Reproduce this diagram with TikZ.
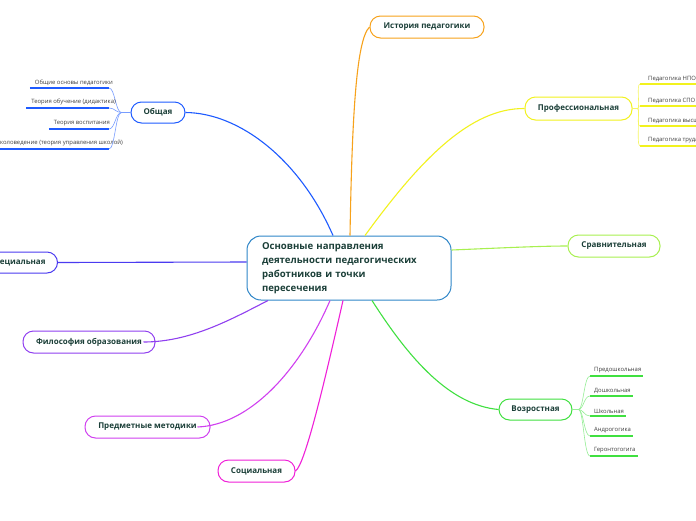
\documentclass[tikz,border=0pt]{standalone}
\usepackage{fontspec}
\setmainfont{Open Sans}
\usetikzlibrary{calc}

\definecolor{txtdark}{HTML}{1B3F38}
\definecolor{mainc}{HTML}{2F86C8}
\definecolor{histc}{HTML}{F7A21B}
\definecolor{obshc}{HTML}{1E5BFF}
\definecolor{profc}{HTML}{F2F21E}
\definecolor{sravnc}{HTML}{A8F050}
\definecolor{vozrc}{HTML}{40E040}
\definecolor{socc}{HTML}{F020D8}
\definecolor{predmc}{HTML}{D040F0}
\definecolor{filosc}{HTML}{9040F0}
\definecolor{specc}{HTML}{4B3BF0}

\begin{document}
\begin{tikzpicture}[x=1pt,y=-1pt, every node/.style={font=\bfseries\fontsize{8}{10}\selectfont, text=txtdark},
    branch/.style={draw=#1, line width=1pt, fill=white, rounded corners=10.5pt, minimum height=22pt},
    link/.style={draw=#1, line width=1.1pt},
    leaf/.style={font=\fontsize{5.9}{7}\selectfont, text=black!75, inner xsep=1pt, inner ysep=2.5pt},
    leaflink/.style={draw=#1, line width=0.6pt},
    under/.style={draw=#1, line width=1.6pt}]
    \useasboundingbox (0,0) rectangle (696,520);
    \clip (0,0) rectangle (696,520);
    \fill[white] (0,0) rectangle (696,520);

    % central topic
    \node[draw=mainc, line width=1pt, fill=white, rounded corners=14pt, minimum width=204pt, minimum height=64pt,
        text width=174pt, align=left, font=\bfseries\fontsize{9.6}{14}\selectfont] (main) at (349,268)
        {Основные направления\\деятельности педагогических\\работников и точки\\пересечения};

    % main branches
    \node[branch=histc, minimum width=114pt] (hist) at (427,27) {История педагогики};
    \node[branch=obshc, minimum width=54pt, minimum height=21pt] (obsh) at (158,112.5) {Общая};
    \node[branch=profc, minimum width=107pt, minimum height=23pt] (prof) at (578.5,108.5) {Профессиональная};
    \node[branch=sravnc, minimum width=92pt] (sravn) at (614,246) {Сравнительная};
    \node[branch=vozrc, minimum width=73pt, minimum height=21pt] (vozr) at (535.5,409.5) {Возростная};
    \node[branch=socc, minimum width=77pt] (soc) at (256.5,471) {Социальная};
    \node[branch=predmc, minimum width=125pt] (predm) at (147.5,427) {Предметные методики};
    \node[branch=filosc, minimum width=132pt] (filos) at (89,342) {Философия образования};
    \node[branch=specc, minimum width=80pt, minimum height=21pt, anchor=east] (spec) at (58,262.5) {Специальная};

    \draw[link=obshc] ([xshift=-16pt]main.north) .. controls (300,160) and (240,113) .. (obsh.east);
    \draw[link=histc] ([xshift=1pt]main.north) .. controls (352,120) and (356,40) .. (hist.west);
    \draw[link=profc] ([xshift=16pt]main.north) .. controls (420,160) and (470,108) .. (prof.west);
    \draw[link=sravnc] ([yshift=18pt]main.east) .. controls (500,248) and (540,246) .. (sravn.west);
    \draw[link=vozrc] ([xshift=23pt]main.south) .. controls (410,360) and (450,405) .. (vozr.west);
    \draw[link=socc] ([xshift=-6pt]main.south) .. controls (325,380) and (305,465) .. (soc.east);
    \draw[link=predmc] ([xshift=-19pt]main.south) .. controls (300,370) and (250,425) .. ([xshift=-13pt]predm.east);
    \draw[link=filosc] ([xshift=-81pt]main.south) .. controls (230,320) and (190,342) .. ([xshift=-12pt]filos.east);
    \draw[link=specc] ([yshift=6pt]main.west) -- (spec.east);

    % sub-topics of Общая
    \foreach \i/\xx/\yy/\txt in {1/114/88/Общие основы педагогики, 2/117/108/Теория обучение (дидактика),
        3/111/129/Теория воспитания, 4/124/149/Школоведение (теория управления школой)}{
        \node[leaf, anchor=south east] (o\i) at (\xx,\yy) {\txt};
        \coordinate (oe\i) at (109,\yy);
        \draw[under=obshc] ([xshift=-4pt]o\i.south west) -- (oe\i);
        \draw[leaflink=obshc!60] (obsh.west) -- ++(-9pt,0) .. controls +(-6pt,0) and +(6pt,0) .. (oe\i);
    }

    % sub-topics of Профессиональная
    \foreach \i/\yy/\txt in {1/84/Педагогика НПО, 2/106/Педагогика СПО,
        3/126/Педагогика высшей школы, 4/146/Педагогика труда}{
        \node[leaf, anchor=south west] (p\i) at (647,\yy) {\txt};
        \draw[under=profc] ([xshift=-7pt]p\i.south west) -- (p\i.south east);
        \draw[leaflink=profc!70] (prof.east) -- ++(5pt,0) .. controls +(3pt,0) and +(-4pt,0) .. ([xshift=-7pt]p\i.south west);
    }

    % sub-topics of Возростная
    \foreach \i/\yy/\txt in {1/376/Предошкольная, 2/396/Дошкольная, 3/416/Школьная,
        4/436/Андрогогика, 5/456/Геронтогогига}{
        \node[leaf, anchor=south west] (v\i) at (593,\yy) {\txt};
        \draw[under=vozrc] ([xshift=-3pt]v\i.south west) -- ([xshift=1pt]v\i.south east);
        \draw[leaflink=vozrc!55] (vozr.east) -- ++(6pt,0) .. controls +(5pt,0) and +(-6pt,0) .. ([xshift=-3pt]v\i.south west);
    }
\end{tikzpicture}
\end{document}
